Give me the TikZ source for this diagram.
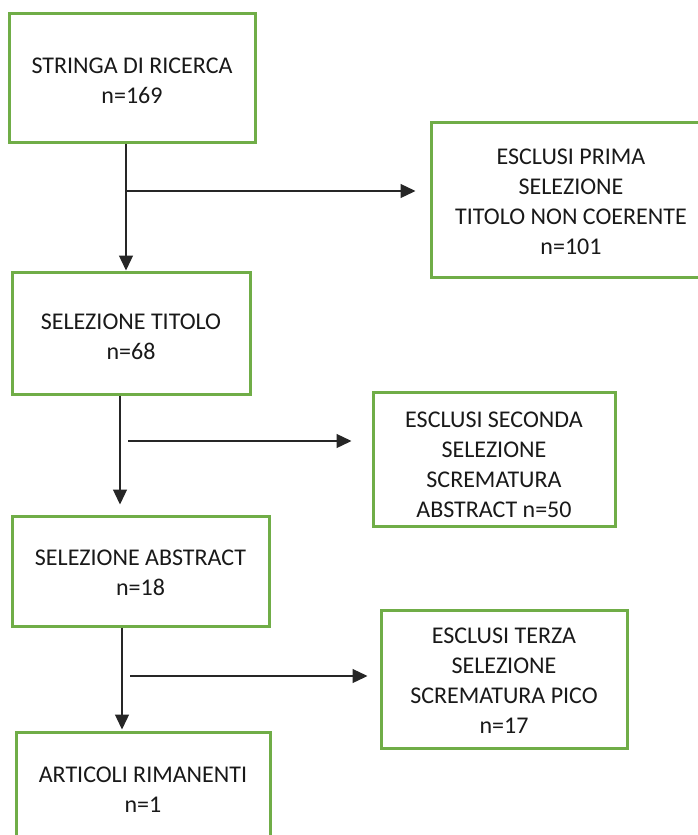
\documentclass[tikz,border=0pt]{standalone}
\usepackage{fontspec}
\setmainfont{Carlito}
\usetikzlibrary{arrows.meta}
\definecolor{boxgreen}{RGB}{112,173,71}
\tikzset{
  greenbox/.style={draw=boxgreen, line width=3pt, fill=white, rectangle, inner sep=0pt},
  label/.style={align=center, font=\fontsize{24}{30}\selectfont, inner sep=0pt, text=black!90},
  arr/.style={-{Triangle[length=15pt,width=14pt]}, line width=1.3pt, black!85}
}
\begin{document}
\begin{tikzpicture}[x=1pt,y=-1pt]
\useasboundingbox (0,0) rectangle (697,835);

% main column of boxes
\node[greenbox, minimum width=246pt, minimum height=129pt] (b1) at (132,77.5) {};
\node[label] (t1) at (b1.center) [yshift=-3.5pt] {STRINGA DI RICERCA\\n=169};

\node[greenbox, minimum width=238pt, minimum height=122pt] (b2) at (131,333) {};
\node[label] (t2) at (b2.center) [yshift=-4pt] {SELEZIONE TITOLO\\n=68};

\node[greenbox, minimum width=257pt, minimum height=110pt] (b3) at (140.5,571) {};
\node[label] (t3) at (b3.center) [yshift=-2pt] {SELEZIONE ABSTRACT\\n=18};

\node[greenbox, minimum width=254pt, minimum height=116pt] (b4) at (143,790) {};
\node[label] (t4) at (b4.center) {ARTICOLI RIMANENTI\\n=1};

% exclusion boxes
\node[greenbox, minimum width=280pt, minimum height=155pt] (e1) at (571,199.5) {};
\node[label] (u1) at (e1.center) [yshift=-2pt] {ESCLUSI PRIMA\\SELEZIONE\\TITOLO NON COERENTE\\n=101};

\node[greenbox, minimum width=242pt, minimum height=134pt] (e2) at (494,459) {};
\node[label] (u2) at (e2.center) [yshift=-6pt] {ESCLUSI SECONDA\\SELEZIONE\\SCREMATURA\\ABSTRACT n=50};

\node[greenbox, minimum width=246pt, minimum height=138pt] (e3) at (504,679) {};
\node[label] (u3) at (e3.center) [yshift=-2pt] {ESCLUSI TERZA\\SELEZIONE\\SCREMATURA PICO\\n=17};

% reference points for the connector lines
\coordinate (v1) at (126,191);
\coordinate (v2) at (120,441);
\coordinate (v3) at (122,676);
\coordinate (h2) at (128,441);
\coordinate (h3) at (130,676);

% vertical flow
\draw[arr] (b1.south -| v1) -- (b2.north -| v1);
\draw[arr, shorten >=10pt] (b2.south -| v2) -- (b3.north -| v2);
\draw[arr, shorten >=1pt] (b3.south -| v3) -- (b4.north -| v3);

% branches to the exclusion boxes
\draw[arr, shorten >=14pt] (v1) -- (e1.west |- v1);
\draw[arr, shorten >=20pt] (h2) -- (e2.west |- h2);
\draw[arr, shorten >=12pt] (h3) -- (e3.west |- h3);
\end{tikzpicture}
\end{document}
